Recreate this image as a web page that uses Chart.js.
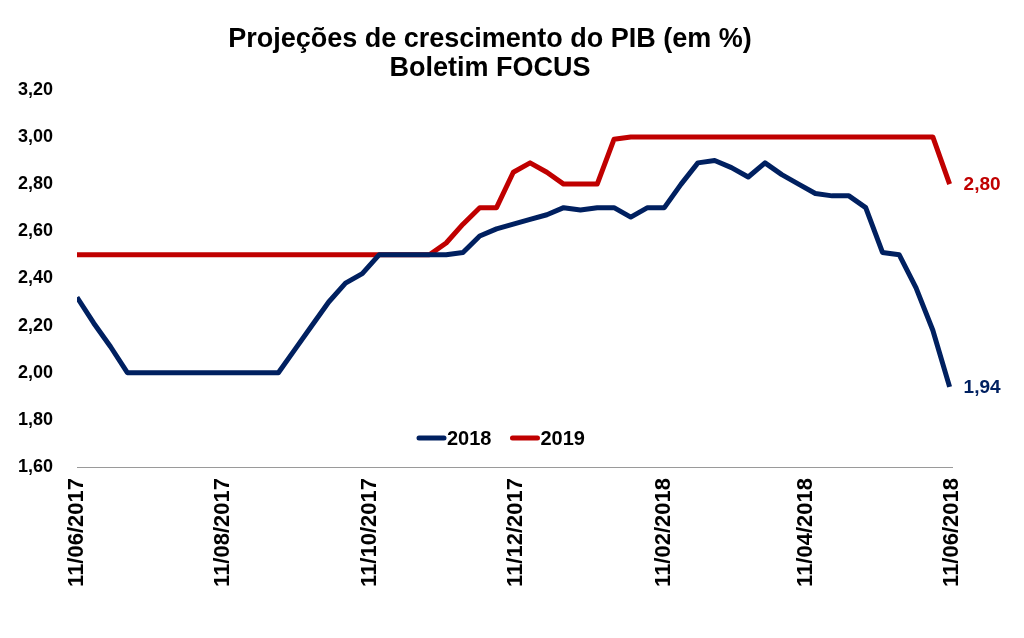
<!DOCTYPE html>
<html>
<head>
<meta charset="utf-8">
<script src="https://cdn.jsdelivr.net/npm/chart.js@4.4.1/dist/chart.umd.min.js"></script>
<style>
  html, body { margin: 0; padding: 0; background: #fff; }
  #wrap { width: 1024px; height: 638px; }
</style>
</head>
<body>
<div id="wrap"><canvas id="chart" width="1024" height="638"></canvas></div>
<script>
// weekly Focus projections, first week 11/06/2017
const startDay = Date.UTC(2017, 5, 11);
const tickLabels = ["11/06/2017", "11/08/2017", "11/10/2017", "11/12/2017", "11/02/2018", "11/04/2018", "11/06/2018"];
const seriesNames = ["2018", "2019"];
const seriesColors = ["#002060", "#C00000"];

const pib2018 = [
  2.32, 2.21, 2.11, 2.00, 2.00, 2.00, 2.00, 2.00, 2.00, 2.00,
  2.00, 2.00, 2.00, 2.10, 2.20, 2.30, 2.38, 2.42, 2.50, 2.50,
  2.50, 2.50, 2.50, 2.51, 2.58, 2.61, 2.63, 2.65, 2.67, 2.70,
  2.69, 2.70, 2.70, 2.66, 2.70, 2.70, 2.80, 2.89, 2.90, 2.87,
  2.83, 2.89, 2.84, 2.80, 2.76, 2.75, 2.75, 2.70, 2.51, 2.50,
  2.36, 2.18, 1.94
];
const pib2019 = [
  2.50, 2.50, 2.50, 2.50, 2.50, 2.50, 2.50, 2.50, 2.50, 2.50,
  2.50, 2.50, 2.50, 2.50, 2.50, 2.50, 2.50, 2.50, 2.50, 2.50,
  2.50, 2.50, 2.55, 2.63, 2.70, 2.70, 2.85, 2.89, 2.85, 2.80,
  2.80, 2.80, 2.99, 3.00, 3.00, 3.00, 3.00, 3.00, 3.00, 3.00,
  3.00, 3.00, 3.00, 3.00, 3.00, 3.00, 3.00, 3.00, 3.00, 3.00,
  3.00, 3.00, 2.80
];

const FONT = '"Liberation Sans", Arial, sans-serif';
Chart.defaults.font.family = FONT;
Chart.defaults.color = "#000";

function dayOffset(s) {
  const p = s.split("/").map(Number);
  return Math.round((Date.UTC(p[2], p[1] - 1, p[0]) - startDay) / 86400000);
}
const tickDays = tickLabels.map(dayOffset);
const fmt = v => v.toFixed(2).replace(".", ",");
const toPoints = arr => arr.map((v, i) => ({ x: i * 7, y: v }));

// legend inside the plot, plus the value labels at the end of each line
const extras = {
  id: "extras",
  afterLayout(chart) {
    // title is centred a bit right of the canvas middle in the original
    if (chart.titleBlock) chart.titleBlock.left += 28;
  },
  afterDatasetsDraw(chart) {
    const c = chart.ctx;
    c.save();
    c.textBaseline = "middle";
    // end labels
    chart.data.datasets.forEach((ds, k) => {
      const pts = chart.getDatasetMeta(k).data;
      const last = pts[pts.length - 1];
      c.font = "bold 19px " + FONT;
      c.fillStyle = ds.borderColor;
      c.textAlign = "left";
      c.fillText(fmt(ds.data[ds.data.length - 1].y), last.x + 14, last.y + 1);
    });
    // legend
    c.font = "bold 20px " + FONT;
    const y = chart.chartArea.bottom - 29;
    let x = 417;
    chart.data.datasets.forEach(ds => {
      c.strokeStyle = ds.borderColor;
      c.lineWidth = 5;
      c.lineCap = "round";
      c.beginPath();
      c.moveTo(x + 2, y);
      c.lineTo(x + 27, y);
      c.stroke();
      c.fillStyle = "#000";
      c.textAlign = "left";
      c.fillText(ds.label, x + 30, y + 1);
      x += 30 + c.measureText(ds.label).width + 19;
    });
    c.restore();
  }
};

new Chart(document.getElementById("chart"), {
  type: "line",
  data: {
    datasets: [
      { label: seriesNames[0], data: toPoints(pib2018), borderColor: seriesColors[0], borderWidth: 5 },
      { label: seriesNames[1], data: toPoints(pib2019), borderColor: seriesColors[1], borderWidth: 5 }
    ]
  },
  options: {
    responsive: false,
    animation: false,
    elements: {
      point: { radius: 0 },
      line: { tension: 0, borderJoinStyle: "round", fill: false }
    },
    layout: { padding: { left: 0, right: 72, top: 18, bottom: 0 } },
    plugins: {
      legend: { display: false },
      tooltip: { enabled: false },
      title: {
        display: true,
        text: ["Projeções de crescimento do PIB (em %)", "Boletim FOCUS"],
        font: { size: 27, weight: "bold", lineHeight: 1.07 },
        color: "#000",
        padding: { top: 7, bottom: 7 }
      }
    },
    scales: {
      x: {
        type: "linear",
        min: 0,
        max: tickDays[tickDays.length - 1],
        afterBuildTicks: s => { s.ticks = tickDays.map(v => ({ value: v })); },
        afterFit: s => { s.height = 171; },
        grid: { display: false },
        border: { display: true, color: "#9a9a9a", width: 1 },
        ticks: {
          autoSkip: false,
          minRotation: 90,
          maxRotation: 90,
          padding: 3,
          font: { size: 22, weight: "bold" },
          callback: v => tickLabels[tickDays.indexOf(v)]
        }
      },
      y: {
        min: 1.6,
        max: 3.2,
        afterFit: s => { s.width = 77; },
        grid: { display: false },
        border: { display: false },
        ticks: {
          stepSize: 0.2,
          padding: 16,
          font: { size: 18, weight: "bold" },
          callback: v => fmt(v)
        }
      }
    }
  },
  plugins: [extras]
});
</script>
</body>
</html>
